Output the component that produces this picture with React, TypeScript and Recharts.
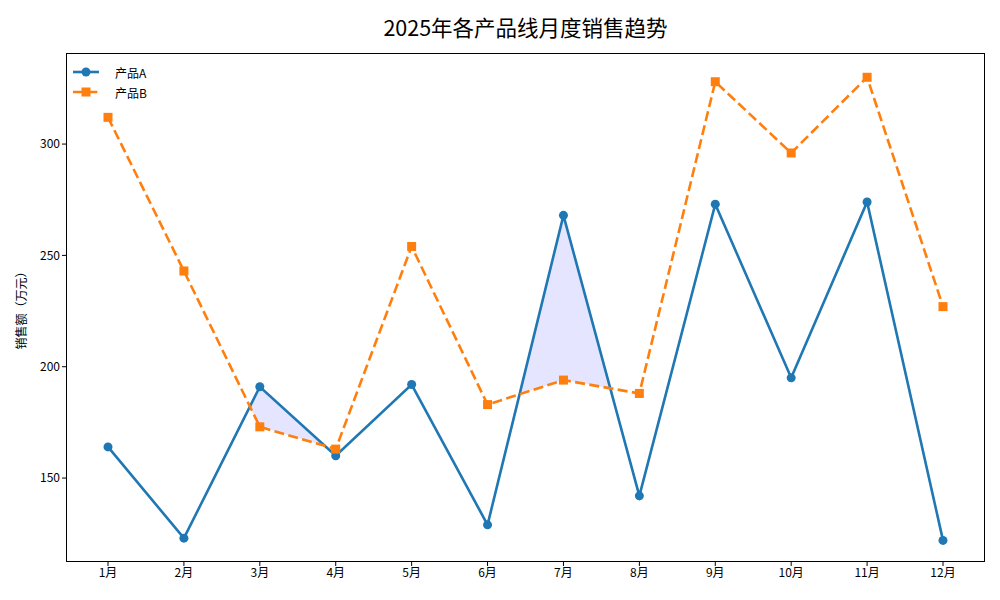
import React from "react";
import {
  Area,
  ComposedChart,
  Line,
  XAxis,
  YAxis,
} from "recharts";

const months = ["1月", "2月", "3月", "4月", "5月", "6月", "7月", "8月", "9月", "10月", "11月", "12月"];
const productA = [164, 123, 191, 160, 192, 129, 268, 142, 273, 195, 274, 122];
const productB = [312, 243, 173, 163, 254, 183, 194, 188, 328, 296, 330, 227];
const yTicks = [150, 200, 250, 300];

const BLUE = "#1f77b4";
const ORANGE = "#ff7f0e";
const FONT = "SimHei, 'Noto Sans CJK SC', sans-serif";

const data = months.map((m, i) => ({ month: m, a: productA[i], b: productB[i] }));

// square marker for product B
const SquareDot = (props: any) => {
  const { cx, cy, index } = props;
  if (cx == null || cy == null) return null;
  return <rect key={`sq-${index}`} x={cx - 4.5} y={cy - 4.5} width={9} height={9} fill={ORANGE} />;
};

const legendItems = [
  { name: "产品A", color: BLUE, dash: undefined, square: false },
  { name: "产品B", color: ORANGE, dash: "10 4.4", square: true },
];

export default function App() {
  return (
    <div style={{ position: "absolute", left: 0, top: 0, width: 1000, height: 600, background: "#fff" }}>
      <div
        style={{
          position: "absolute",
          left: 66,
          width: 919,
          top: 11,
          textAlign: "center",
          fontFamily: FONT,
          fontSize: 21.5,
          color: "#000",
        }}
      >
        2025年各产品线月度销售趋势
      </div>
      <ComposedChart
        width={1000}
        height={600}
        data={data}
        margin={{ top: 53, right: 15, left: 0, bottom: 0 }}
        style={{ fontFamily: FONT }}
      >
        <XAxis
          dataKey="month"
          height={38}
          padding={{ left: 42, right: 42 }}
          axisLine={false}
          tickSize={4}
          tickLine={{ stroke: "#000" }}
          tick={{ fill: "#000", fontSize: 12 }}
          interval={0}
        />
        <YAxis
          width={66}
          type="number"
          domain={[112.3, 340.9]}
          ticks={yTicks}
          allowDataOverflow
          axisLine={false}
          tickSize={4}
          tickLine={{ stroke: "#000" }}
          tick={{ fill: "#000", fontSize: 12 }}
          label={{
            content: (p: any) => {
              const vb = p.viewBox || {};
              const cy = (vb.y ?? 53) + (vb.height ?? 509) / 2;
              return (
                <text
                  x={20}
                  y={cy}
                  transform={`rotate(-90 20 ${cy})`}
                  textAnchor="middle"
                  dominantBaseline="central"
                  fontSize={12}
                  fill="#000"
                  fontFamily={FONT}
                >
                  销售额（万元）
                </text>
              );
            },
          }}
        />
        {/* fill between A and B where A > B: lavender under A, then white under B */}
        <Area
          dataKey="a"
          type="linear"
          stroke="none"
          fill="#e5e5ff"
          fillOpacity={1}
          isAnimationActive={false}
          legendType="none"
          dot={false}
          activeDot={false}
        />
        <Area
          dataKey="b"
          type="linear"
          stroke="none"
          fill="#ffffff"
          fillOpacity={1}
          isAnimationActive={false}
          legendType="none"
          dot={false}
          activeDot={false}
        />
        <Line
          dataKey="a"
          name="产品A"
          type="linear"
          stroke={BLUE}
          strokeWidth={2.6}
          dot={{ r: 4.5, fill: BLUE, stroke: BLUE, strokeWidth: 0 }}
          activeDot={false}
          isAnimationActive={false}
        />
        <Line
          dataKey="b"
          name="产品B"
          type="linear"
          stroke={ORANGE}
          strokeWidth={2.6}
          strokeDasharray="10 4.4"
          dot={<SquareDot />}
          activeDot={false}
          isAnimationActive={false}
        />
      </ComposedChart>
      <div
        style={{
          position: "absolute",
          left: 66,
          top: 53,
          width: 919,
          height: 509,
          border: "1px solid #000",
          boxSizing: "border-box",
          pointerEvents: "none",
        }}
      />
      <div
        style={{
          position: "absolute",
          left: 72,
          top: 62,
          fontFamily: FONT,
          fontSize: 12,
          color: "#000",
        }}
      >
        {legendItems.map((item) => (
          <div key={item.name} style={{ display: "flex", alignItems: "center", height: 20 }}>
            <svg width={30} height={12}>
              <line x1={1} y1={6} x2={27} y2={6} stroke={item.color} strokeWidth={2.6} strokeDasharray={item.dash} />
              {item.square ? (
                <rect x={9.5} y={1.5} width={9} height={9} fill={item.color} />
              ) : (
                <circle cx={14} cy={6} r={4.5} fill={item.color} />
              )}
            </svg>
            <span style={{ marginLeft: 13 }}>{item.name}</span>
          </div>
        ))}
      </div>
    </div>
  );
}
